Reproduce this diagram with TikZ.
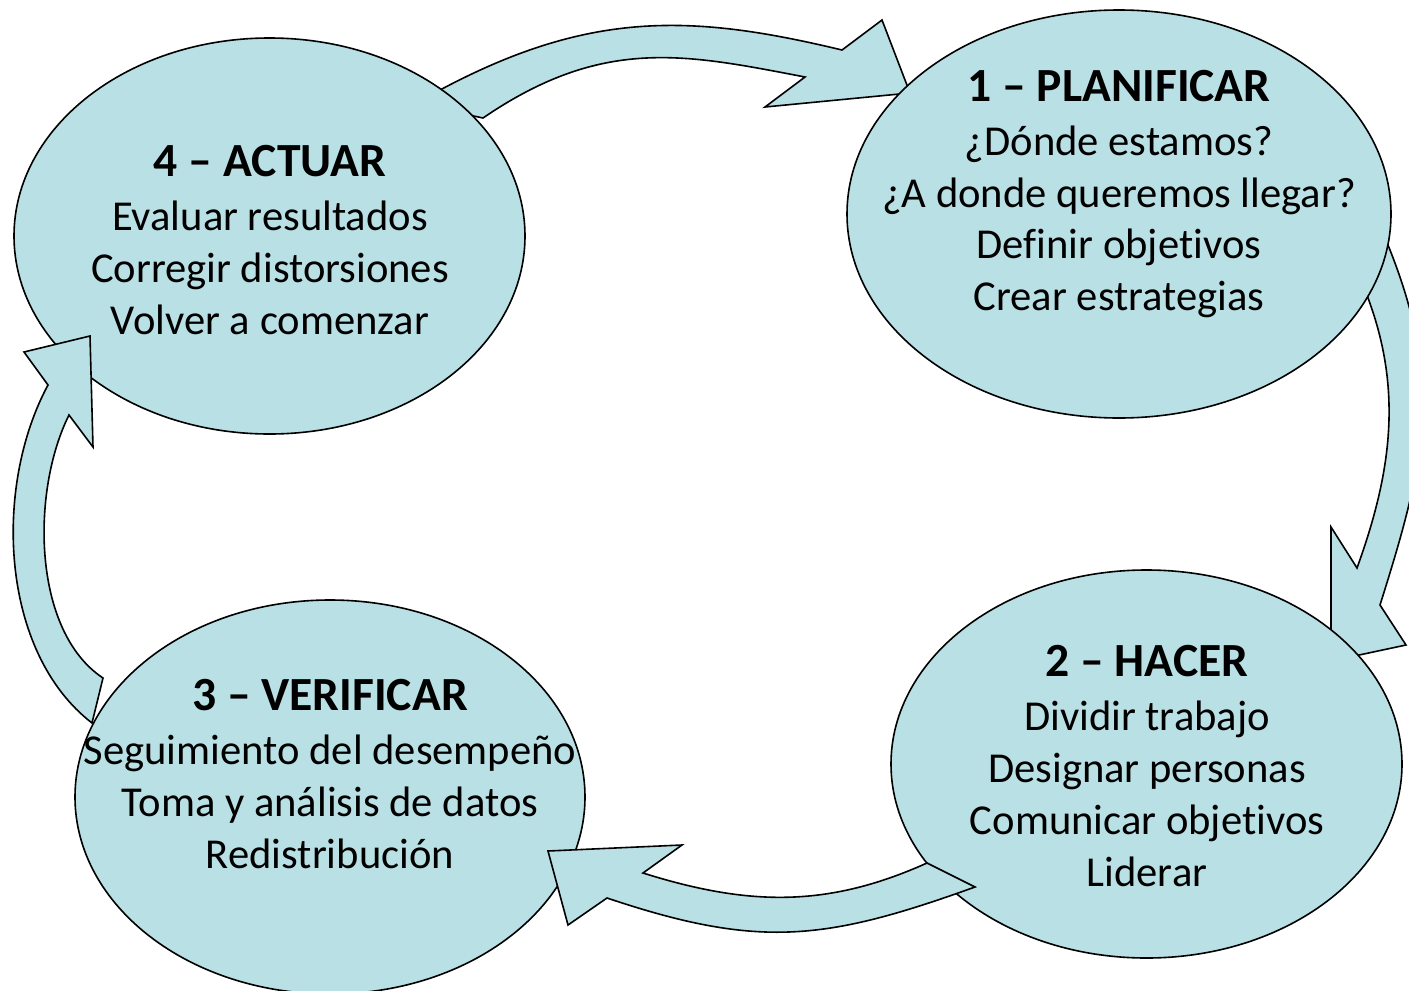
\documentclass[tikz,border=0pt]{standalone}
\usepackage{fontspec}
\setmainfont{Carlito}[Ligatures={NoCommon,NoContextual}]
\usetikzlibrary{shapes.geometric}
\definecolor{celeste}{RGB}{185,224,228}
\tikzset{
  fase/.style={ellipse, draw, fill=celeste, line width=0.8pt, inner sep=0pt},
  flecha/.style={draw, fill=celeste, line width=0.8pt, line join=miter},
  texto/.style={align=center, inner sep=0pt, font=\fontsize{21.3}{25.9}\selectfont}
}
\newcommand{\titulo}[1]{{\fontsize{23.8}{25.9}\selectfont\bfseries #1}}

\begin{document}
\begin{tikzpicture}[x=0.5pt, y=-0.5pt]
\useasboundingbox (0,0) rectangle (1409,991);
\draw[flecha] (440,90) .. controls (590,10) and (692,14) .. (842,50) -- (882,20) -- (910,93) -- (765,107) -- (805,77) .. controls (685,54) and (603,36) .. (483,118) -- (455,112) -- cycle;
\draw[flecha] (1388,245) .. controls (1444,384) and (1425,462) .. (1380,605) -- (1406,645) -- (1331,661) -- (1331,527) -- (1357,568) .. controls (1391,474) and (1403,392) .. (1368,298) -- (1355,270) -- cycle;
\node[fase, minimum width=272pt, minimum height=204pt] (planificar) at (1119,214) {};
\node[fase, minimum width=255.5pt, minimum height=198pt] (actuar) at (269.5,236) {};
\node[fase, minimum width=255.5pt, minimum height=194pt] (hacer) at (1146.5,764) {};
\node[fase, minimum width=255pt, minimum height=197pt] (verificar) at (330,797) {};
\draw[flecha] (92,723) .. controls (0,652) and (-7,487) .. (48,385) -- (24,352) -- (90,336) -- (93,447) -- (69,415) .. controls (31,491) and (32,631) .. (103,678) -- cycle;
\draw[flecha] (975,887) .. controls (825,941) and (759,949) .. (607,898) -- (568,925) -- (548,851) -- (682,845) -- (643,873) .. controls (748,906) and (827,908) .. (927,863) -- cycle;
\node[texto] (planificartxt) at (1119,194) {\titulo{1 – PLANIFICAR}\\[1.1pt] ¿Dónde estamos?\\ ¿A donde queremos llegar?\\ Definir objetivos\\ Crear estrategias};
\node[texto] (hacertxt) at (1147,766) {\titulo{2 – HACER}\\[1.1pt] Dividir trabajo\\ Designar personas\\ Comunicar objetivos\\ Liderar};
\node[texto] (verificartxt) at (330,774) {\titulo{3 – VERIFICAR}\\[1.1pt] Seguimiento del desempeño\\ Toma y análisis de datos\\ Redistribución};
\node[texto] (actuartxt) at (270,240) {\titulo{4 – ACTUAR}\\[1.1pt] Evaluar resultados\\ Corregir distorsiones\\ Volver a comenzar};
\end{tikzpicture}
\end{document}
